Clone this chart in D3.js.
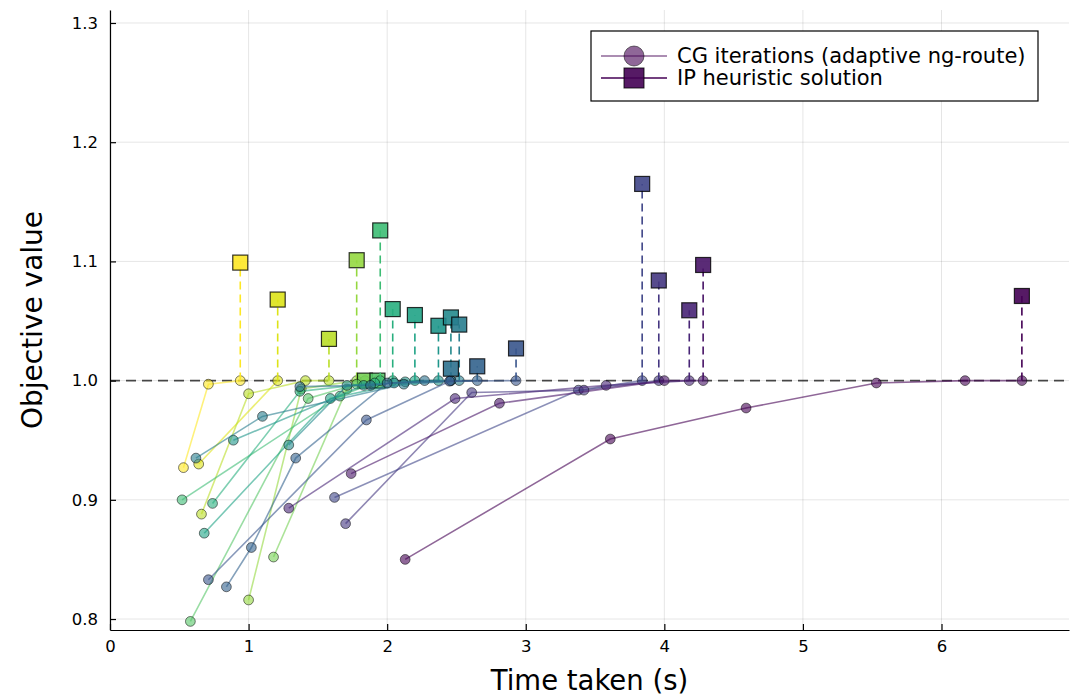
<!DOCTYPE html>
<html lang="en">
<head>
<meta charset="utf-8">
<title>CG iterations vs IP heuristic</title>
<style>
  body { margin: 0; background: #fff; }
  svg { font-family: "DejaVu Sans", sans-serif; }
</style>
</head>
<body>
<svg id="chart" width="1075" height="700"></svg>
<script src="https://d3js.org/d3.v7.min.js"></script>
<script>
// time (s) of every CG iteration, one list per instance
var cgTimes = [
  [0.53, 0.71, 0.94],
  [0.64, 1.21],
  [0.66, 1.00, 1.41, 1.58],
  [1.00, 1.38, 1.78],
  [1.18, 1.71, 1.84],
  [0.58, 1.43, 1.78, 1.93],
  [0.52, 1.66, 1.95],
  [0.74, 1.37, 1.91, 2.04],
  [0.68, 1.59, 2.20],
  [0.89, 1.83, 2.13, 2.37],
  [1.29, 1.71, 2.05, 2.46],
  [0.62, 1.10, 2.12, 2.52],
  [1.37, 1.88, 2.27, 2.46],
  [0.84, 1.02, 1.34, 2.00, 2.65],
  [0.71, 1.85, 2.45, 2.93],
  [1.62, 3.38, 3.84],
  [1.70, 2.61, 3.42, 3.96],
  [1.29, 2.49, 3.58, 4.18],
  [1.74, 2.81, 4.00, 4.28],
  [2.13, 3.61, 4.59, 5.53, 6.17, 6.58]
];
// objective value of every CG iteration
var cgValues = [
  [0.927, 0.997, 1.000],
  [0.930, 1.000],
  [0.888, 0.989, 1.000, 1.000],
  [0.816, 0.993, 1.000],
  [0.852, 0.993, 1.000],
  [0.798, 0.985, 0.997, 1.000],
  [0.900, 0.987, 1.000],
  [0.897, 0.991, 0.998, 1.000],
  [0.872, 0.985, 1.000],
  [0.950, 0.996, 0.999, 1.000],
  [0.946, 0.996, 0.998, 1.000],
  [0.935, 0.970, 0.997, 1.000],
  [0.995, 0.996, 1.000, 1.000],
  [0.827, 0.860, 0.935, 0.998, 1.000],
  [0.833, 0.967, 0.9995, 1.000],
  [0.902, 0.992, 1.000],
  [0.880, 0.990, 0.992, 1.000],
  [0.893, 0.985, 0.996, 1.000],
  [0.922, 0.981, 1.000, 1.000],
  [0.850, 0.951, 0.977, 0.998, 1.000, 1.000]
];
// IP heuristic objective per instance (found at the last CG time)
var ipValues = [1.099, 1.068, 1.035, 1.101, 1.000, 1.000, 1.126, 1.060, 1.055, 1.046,
                1.053, 1.047, 1.010, 1.012, 1.027, 1.165, 1.084, 1.059, 1.097, 1.071];

var xTicks = [0, 1, 2, 3, 4, 5, 6];
var yTicks = [0.8, 0.9, 1.0, 1.1, 1.2, 1.3];
var legendLabels = ['CG iterations (adaptive ng-route)', 'IP heuristic solution'];

var svg = d3.select('#chart'),
    margin = {top: 10, right: 6, bottom: 70, left: 110},
    width = +svg.attr('width') - margin.left - margin.right,
    height = +svg.attr('height') - margin.top - margin.bottom;

var x = d3.scaleLinear().domain([0, 6.92]).range([0, width]);
var y = d3.scaleLinear().domain([0.7908, 1.3109]).range([height, 0]);

var n = cgTimes.length;
function colour(i) { return d3.interpolateViridis(1 - i / (n - 1)); }

var g = svg.append('g').attr('transform', 'translate(' + margin.left + ',' + margin.top + ')');

// grid
g.append('g').selectAll('line').data(xTicks).enter().append('line')
  .attr('x1', function(d) { return x(d); }).attr('x2', function(d) { return x(d); })
  .attr('y1', 0).attr('y2', height)
  .attr('stroke', '#000').attr('stroke-opacity', 0.1).attr('stroke-width', 1);
g.append('g').selectAll('line').data(yTicks).enter().append('line')
  .attr('y1', function(d) { return y(d); }).attr('y2', function(d) { return y(d); })
  .attr('x1', 0).attr('x2', width)
  .attr('stroke', '#000').attr('stroke-opacity', 0.1).attr('stroke-width', 1);

// reference line at 1.0
g.append('line')
  .attr('x1', 0).attr('x2', width)
  .attr('y1', y(1)).attr('y2', y(1))
  .attr('stroke', '#000').attr('stroke-opacity', 0.7)
  .attr('stroke-width', 1.6).attr('stroke-dasharray', '10,6');

var line = d3.line().x(function(d) { return x(d[0]); }).y(function(d) { return y(d[1]); });

cgTimes.forEach(function(ts, i) {
  var c = colour(i);
  var pts = ts.map(function(t, k) { return [t, cgValues[i][k]]; });
  var last = pts[pts.length - 1];

  g.append('path').datum(pts)
    .attr('d', line).attr('fill', 'none')
    .attr('stroke', c).attr('stroke-opacity', 0.6).attr('stroke-width', 1.6);

  g.append('g').selectAll('circle').data(pts).enter().append('circle')
    .attr('cx', function(d) { return x(d[0]); })
    .attr('cy', function(d) { return y(d[1]); })
    .attr('r', 4.9)
    .attr('fill', c).attr('fill-opacity', 0.6)
    .attr('stroke', '#000').attr('stroke-opacity', 0.5).attr('stroke-width', 1);

  g.append('line')
    .attr('x1', x(last[0])).attr('x2', x(last[0]))
    .attr('y1', y(last[1])).attr('y2', y(ipValues[i]))
    .attr('stroke', c).attr('stroke-width', 1.6).attr('stroke-dasharray', '8,5');

  g.append('rect')
    .attr('x', x(last[0]) - 7.5).attr('y', y(ipValues[i]) - 7.5)
    .attr('width', 15).attr('height', 15)
    .attr('fill', c).attr('fill-opacity', 0.9)
    .attr('stroke', '#000').attr('stroke-opacity', 0.8).attr('stroke-width', 1.2);
});

// axes (spines with inward ticks)
var xAxis = g.append('g').attr('transform', 'translate(0,' + height + ')')
  .call(d3.axisBottom(x).tickValues(xTicks).tickSizeInner(-6).tickSizeOuter(0).tickPadding(10).tickFormat(d3.format('d')));
var yAxis = g.append('g')
  .call(d3.axisLeft(y).tickValues(yTicks).tickSizeInner(-6).tickSizeOuter(0).tickPadding(12).tickFormat(d3.format('.1f')));
[xAxis, yAxis].forEach(function(a) {
  a.select('.domain').attr('stroke', '#000').attr('stroke-width', 1.2);
  a.selectAll('.tick line').attr('stroke', '#000').attr('stroke-width', 1.2);
  a.selectAll('.tick text').attr('font-size', 16.5).attr('fill', '#000')
    .attr('font-family', '"DejaVu Sans", sans-serif');
});

// axis titles
svg.append('text')
  .attr('x', margin.left + width / 2).attr('y', 690)
  .attr('text-anchor', 'middle').attr('font-size', 27.5).text('Time taken (s)');
svg.append('text')
  .attr('transform', 'translate(42,' + (margin.top + height / 2) + ') rotate(-90)')
  .attr('text-anchor', 'middle').attr('font-size', 28).text('Objective value');

// legend
var leg = svg.append('g').attr('transform', 'translate(591,31)');
leg.append('rect').attr('width', 447).attr('height', 70)
  .attr('fill', '#fff').attr('stroke', '#000').attr('stroke-width', 1.2);
var legColour = colour(n - 1);
leg.selectAll('g.item').data(legendLabels).enter().append('g')
  .attr('class', 'item')
  .attr('transform', function(d, k) { return 'translate(0,' + (25 + k * 22) + ')'; })
  .each(function(d, k) {
    var it = d3.select(this);
    it.append('line').attr('x1', 10).attr('x2', 76).attr('y1', 0).attr('y2', 0)
      .attr('stroke', legColour).attr('stroke-opacity', k === 0 ? 0.6 : 1).attr('stroke-width', 1.6);
    if (k === 0) {
      it.append('circle').attr('cx', 43).attr('cy', 0).attr('r', 10)
        .attr('fill', legColour).attr('fill-opacity', 0.6)
        .attr('stroke', '#000').attr('stroke-opacity', 0.5);
    } else {
      it.append('rect').attr('x', 33).attr('y', -10).attr('width', 20).attr('height', 20)
        .attr('fill', legColour).attr('fill-opacity', 0.9)
        .attr('stroke', '#000').attr('stroke-opacity', 0.8);
    }
    it.append('text').attr('x', 86).attr('y', 7).attr('font-size', 21).text(d);
  });
</script>
</body>
</html>
